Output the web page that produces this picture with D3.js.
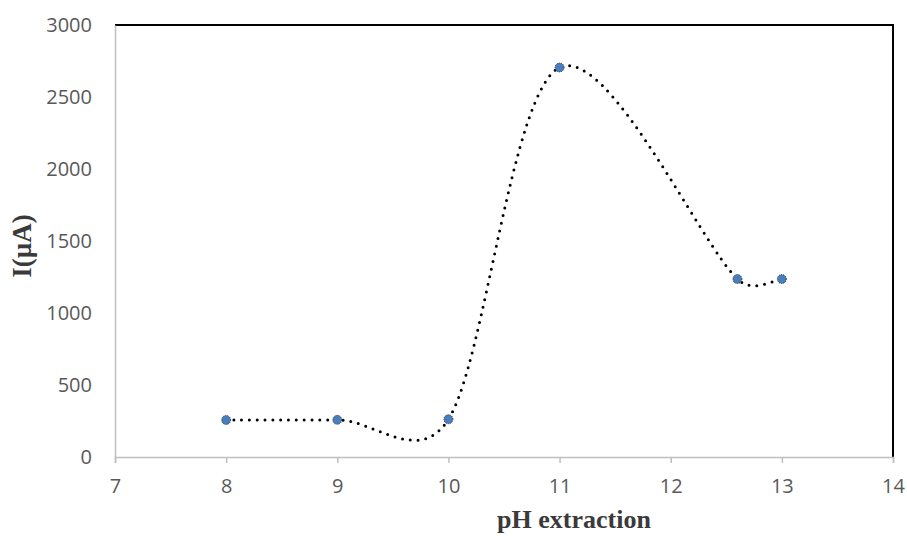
<!DOCTYPE html>
<html>
<head>
<meta charset="UTF-8">
<title>pH extraction</title>
<script src="https://cdn.jsdelivr.net/npm/d3@7"></script>
<style>
  body { margin: 0; background: #fff; }
  .title { font-family: "Liberation Serif", "Times New Roman", serif; font-weight: bold; fill: #3a3a3a; }
</style>
</head>
<body>
<svg id="chart" width="907" height="536"></svg>
<script>
// valeurs
const phValues = [8, 9, 10, 11, 12.6, 13];
const currentValues = [257, 258, 262, 2705, 1236, 1236];
const xTicks = [7, 8, 9, 10, 11, 12, 13, 14];
const yTicks = [0, 500, 1000, 1500, 2000, 2500, 3000];

const data = phValues.map((x, i) => ({ x: x, y: currentValues[i] }));

const margin = { top: 25, right: 14, bottom: 79, left: 115 };
const width = 907 - margin.left - margin.right;
const height = 536 - margin.top - margin.bottom;

// courbe lissée façon Excel (Bézier, tension 1/6, tangente limitée à la moitié du segment)
function ExcelCurve(context) { this._context = context; }
ExcelCurve.prototype = {
  areaStart() { this._line = 0; },
  areaEnd() { this._line = NaN; },
  lineStart() { this._pts = []; },
  point(x, y) { this._pts.push([+x, +y]); },
  lineEnd() {
    const p = this._pts, c = this._context, n = p.length;
    if (!n) return;
    const dist = (a, b) => Math.hypot(a[0] - b[0], a[1] - b[1]);
    c.moveTo(p[0][0], p[0][1]);
    for (let i = 0; i < n - 1; i++) {
      const p0 = p[i - 1] || p[i], p1 = p[i], p2 = p[i + 1], p3 = p[i + 2] || p[i + 1];
      const d12 = dist(p1, p2), d02 = dist(p0, p2), d13 = dist(p1, p3);
      let s1 = 1 / 6, s2 = 1 / 6;
      if (d02 * s1 > d12 / 2) s1 = d12 / 2 / d02;
      if (d13 * s2 > d12 / 2) s2 = d12 / 2 / d13;
      c.bezierCurveTo(
        p1[0] + s1 * (p2[0] - p0[0]), p1[1] + s1 * (p2[1] - p0[1]),
        p2[0] - s2 * (p3[0] - p1[0]), p2[1] - s2 * (p3[1] - p1[1]),
        p2[0], p2[1]);
    }
  }
};
const curveExcel = context => new ExcelCurve(context);

const svg = d3.select('#chart');
const g = svg.append('g').attr('transform', `translate(${margin.left},${margin.top})`);

const x = d3.scaleLinear().domain([7, 14]).range([0, width]);
const y = d3.scaleLinear().domain([0, 3000]).range([height, 0]);

// cadre haut + droite
g.append('path')
  .attr('d', `M0,0H${width}V${height}`)
  .attr('fill', 'none')
  .attr('stroke', '#000')
  .attr('stroke-width', 2);

// axe X
const xAxis = g.append('g')
  .attr('transform', `translate(0,${height})`)
  .call(d3.axisBottom(x).tickValues(xTicks).tickSize(6).tickPadding(16).tickFormat(d3.format('d')));
xAxis.select('.domain').attr('stroke', '#bfbfbf').attr('stroke-width', 1.5);
xAxis.selectAll('.tick line').attr('stroke', '#bfbfbf').attr('stroke-width', 1.5);

// axe Y
const yAxis = g.append('g')
  .call(d3.axisLeft(y).tickValues(yTicks).tickSize(0).tickPadding(23).tickFormat(d3.format('d')));
yAxis.select('.domain').attr('stroke', '#bfbfbf').attr('stroke-width', 1.5);

g.selectAll('.tick text')
  .attr('font-family', '"Open Sans", "Liberation Sans", sans-serif')
  .attr('font-size', 20)
  .attr('fill', '#595959');

// courbe pointillée
const line = d3.line()
  .x(d => x(d.x))
  .y(d => y(d.y))
  .curve(curveExcel);

g.append('path')
  .datum(data)
  .attr('d', line)
  .attr('fill', 'none')
  .attr('stroke', '#000')
  .attr('stroke-width', 3)
  .attr('stroke-linecap', 'round')
  .attr('stroke-dasharray', '0 7.8');

// marqueurs
g.selectAll('.pt')
  .data(data)
  .enter()
  .append('circle')
  .attr('class', 'pt')
  .attr('cx', d => x(d.x))
  .attr('cy', d => y(d.y))
  .attr('r', 4.5)
  .attr('fill', '#4a7ebb')
  .attr('stroke', '#1f2d44')
  .attr('stroke-width', 1)
  .attr('stroke-dasharray', '1 1.2');

// titres
svg.append('text')
  .attr('class', 'title')
  .attr('x', 574)
  .attr('y', 528)
  .attr('font-size', 26)
  .attr('text-anchor', 'middle')
  .text('pH extraction');

svg.append('text')
  .attr('class', 'title')
  .attr('transform', 'translate(31,246) rotate(-90)')
  .attr('font-size', 27)
  .attr('text-anchor', 'middle')
  .text('I(µA)');
</script>
</body>
</html>
